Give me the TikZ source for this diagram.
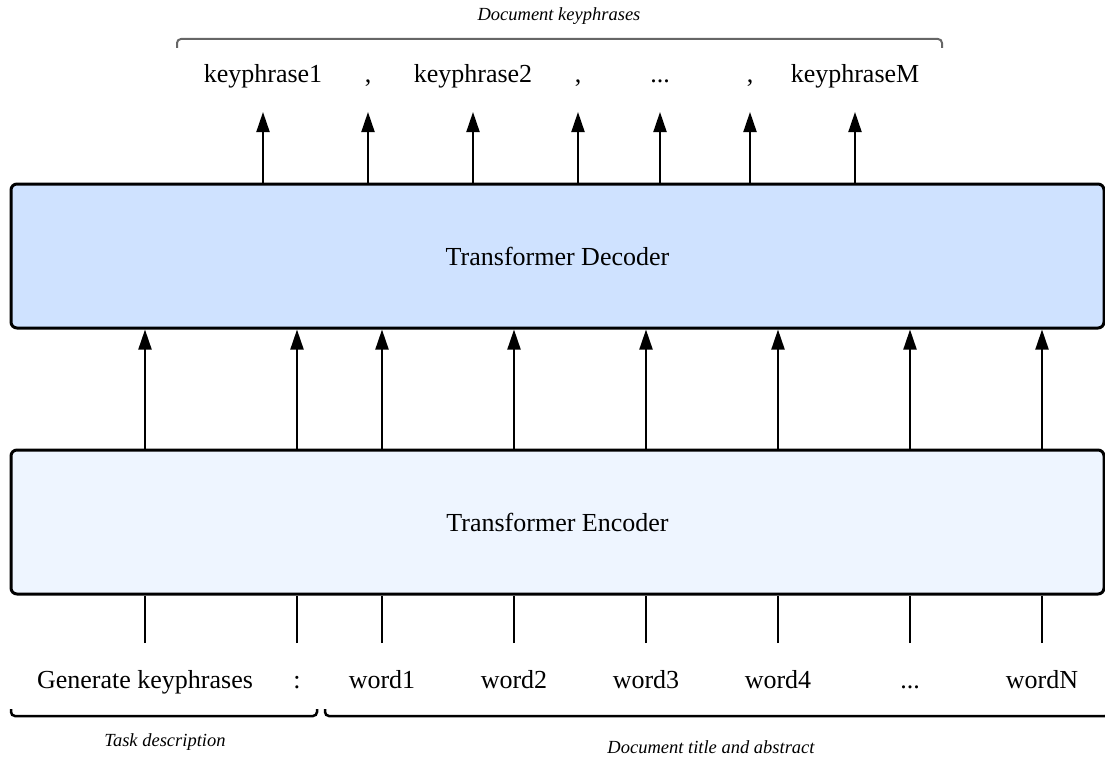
\documentclass[tikz,border=0pt]{standalone}
\usepackage{fontspec}
\setmainfont{Liberation Serif}
\usetikzlibrary{arrows.meta}
\definecolor{decfill}{HTML}{CFE2FF}
\definecolor{encfill}{HTML}{EEF5FF}
\definecolor{brgray}{HTML}{666666}
\begin{document}
\begin{tikzpicture}[x=1pt,y=-1pt,
  block/.style={draw=black,line width=3pt,rounded corners=6pt,minimum width=1093pt,minimum height=144pt,inner sep=0pt,font=\fontsize{26}{31}\selectfont},
  word/.style={inner sep=0pt,anchor=base,font=\fontsize{26}{31}\selectfont},
  lbl/.style={inner sep=0pt,font=\fontsize{18.5}{22}\selectfont\itshape},
  arr/.style={line width=2pt,-{Triangle[width=13pt,length=20pt]}},
  feed/.style={line width=2pt},
  brace/.style={line width=2.5pt,rounded corners=4pt},
]
\useasboundingbox (0,0) rectangle (1105,760);
% blocks
\node[block,fill=decfill] (dec) at (557.5,256) {Transformer Decoder};
\node[block,fill=encfill] (enc) at (557.5,522) {Transformer Encoder};
% input words
\node[word] (w1) at (145,688) {Generate keyphrases};
\node[word] (w2) at (297,688) {:};
\node[word] (w3) at (382,688) {word1};
\node[word] (w4) at (514,688) {word2};
\node[word] (w5) at (646,688) {word3};
\node[word] (w6) at (778,688) {word4};
\node[word] (w7) at (910,688) {...};
\node[word] (w8) at (1042,688) {wordN};
\foreach \i in {1,...,8}{
  \coordinate (s\i) at ([yshift=45pt]w\i.base);
  \draw[feed] (s\i) -- (s\i |- enc.south);
  \draw[arr] (s\i |- enc.north) -- (s\i |- dec.south);
}
% output keyphrases
\node[word] (k1) at (263,82) {keyphrase1};
\node[word] (k2) at (368,82) {,};
\node[word] (k3) at (473,82) {keyphrase2};
\node[word] (k4) at (578,82) {,};
\node[word] (k5) at (660,82) {...};
\node[word] (k6) at (750,82) {,};
\node[word] (k7) at (855,82) {keyphraseM};
\foreach \i in {1,...,7}{
  \coordinate (t\i) at ([yshift=-30pt]k\i.base);
  \draw[arr] (t\i |- dec.north) -- (t\i);
}
% brackets
\coordinate (ta) at (177,48);
\coordinate (tb) at (942,48);
\draw[brace,draw=brgray,line width=2pt] (ta) -- ++(0,-9) -| (tb);
\node[lbl] (tl) at (559,16) {Document keyphrases};
\coordinate (la) at (11,709);
\coordinate (lb) at (317,709);
\draw[brace] (la) -- ++(0,7) -| (lb);
\coordinate (ra) at (325,709);
\coordinate (rb) at (1109,709);
\draw[brace] (ra) -- ++(0,7) -| (rb);
\node[lbl] (ll) at (165,742) {Task description};
\node[lbl] (rl) at (711,747) {Document title and abstract};
\end{tikzpicture}
\end{document}
